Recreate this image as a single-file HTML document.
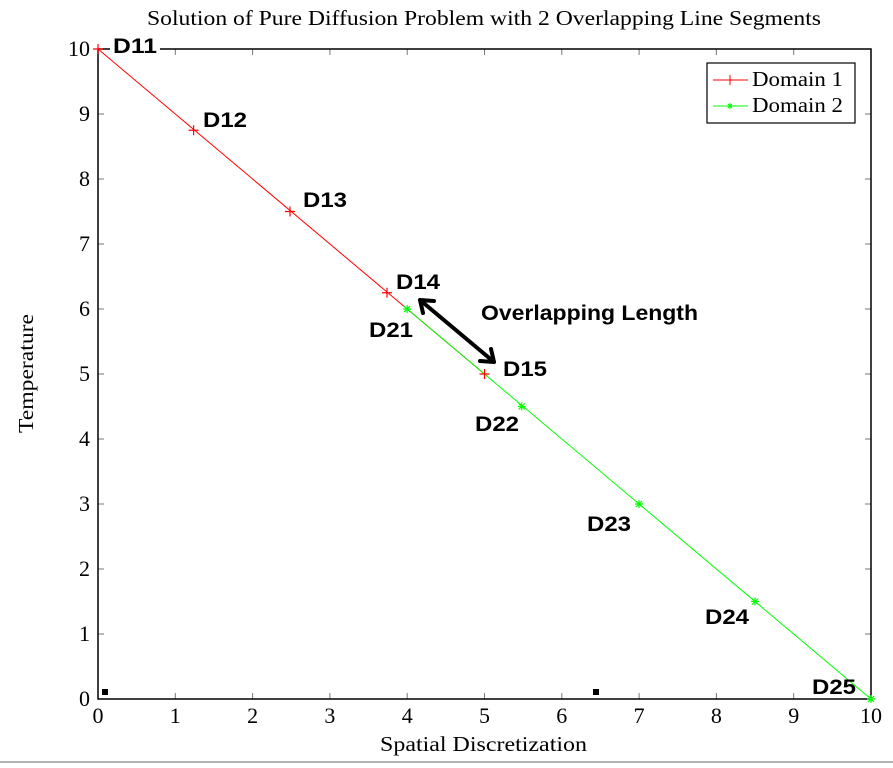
<!DOCTYPE html>
<html><head><style>body{margin:0;background:#fff}</style></head><body>
<svg width="893" height="763" xmlns="http://www.w3.org/2000/svg" font-family="Liberation Serif, serif">
<rect width="893" height="763" fill="#fff"/>
<line x1="0" y1="762" x2="893" y2="762" stroke="#999" stroke-width="1.5"/>
<text x="147" y="25" font-size="21" textLength="674" lengthAdjust="spacingAndGlyphs">Solution of Pure Diffusion Problem with 2 Overlapping Line Segments</text>
<g stroke="#777" stroke-width="1">
<path d="M175.3 699v-6M252.6 699v-6M329.9 699v-6M407.2 699v-6M484.5 699v-6M561.8 699v-6M639.1 699v-6M716.4 699v-6M793.7 699v-6"/>
<path d="M175.3 49v6M252.6 49v6M329.9 49v6M407.2 49v6M484.5 49v6M561.8 49v6M639.1 49v6M716.4 49v6M793.7 49v6"/>
<path d="M98 634h6M98 569h6M98 504h6M98 439h6M98 374h6M98 309h6M98 244h6M98 179h6M98 114h6"/>
<path d="M871 634h-6M871 569h-6M871 504h-6M871 439h-6M871 374h-6M871 309h-6M871 244h-6M871 179h-6M871 114h-6"/>
</g>
<rect x="98" y="49" width="773" height="650" fill="none" stroke="#000" stroke-width="1.5"/>
<g font-size="22" text-anchor="middle">
<text x="98" y="723">0</text><text x="175.3" y="723">1</text><text x="252.6" y="723">2</text><text x="329.9" y="723">3</text><text x="407.2" y="723">4</text><text x="484.5" y="723">5</text><text x="561.8" y="723">6</text><text x="639.1" y="723">7</text><text x="716.4" y="723">8</text><text x="793.7" y="723">9</text><text x="871" y="723">10</text>
</g>
<g font-size="22" text-anchor="end">
<text x="90" y="706">0</text><text x="90" y="641">1</text><text x="90" y="576">2</text><text x="90" y="511">3</text><text x="90" y="446">4</text><text x="90" y="381">5</text><text x="90" y="316">6</text><text x="90" y="251">7</text><text x="90" y="186">8</text><text x="90" y="121">9</text><text x="90" y="56">10</text>
</g>
<text x="380" y="751" font-size="21" textLength="207" lengthAdjust="spacingAndGlyphs">Spatial Discretization</text>
<text transform="translate(33 433) rotate(-90)" font-size="21" textLength="119" lengthAdjust="spacingAndGlyphs">Temperature</text>
<polyline points="98,49 484.5,374" fill="none" stroke="#f00" stroke-width="1"/>
<polyline points="407.2,309 871,699" fill="none" stroke="#0f0" stroke-width="1"/>
<g stroke="#f00" stroke-width="1.2">
<path d="M93 49h10M98 44v10M188.6 130.25h10M193.6 125.25v10M285 211.5h10M290 206.5v10M382 292.75h10M387 287.75v10M479.5 374h10M484.5 369v10"/>
</g>
<g stroke="#0f0" stroke-width="1.2">
<path d="M403.2 309h8M407.2 305v8M404 306l6 6M404 312l6-6"/>
<path d="M517.7 406.5h8M521.7 402.5v8M518.7 403.5l6 6M518.7 409.5l6-6"/>
<path d="M635 504h8M639 500v8M636 501l6 6M636 507l6-6"/>
<path d="M751 601.5h8M755 597.5v8M752 598.5l6 6M752 604.5l6-6"/>
<path d="M867 699h8M871 695v8M868 696l6 6M868 702l6-6"/>
</g>
<rect x="102" y="689" width="6" height="6"/><rect x="593" y="689" width="6" height="6"/>
<rect x="707" y="63" width="148" height="60" fill="#fff" stroke="#000" stroke-width="1.2"/>
<line x1="713" y1="80" x2="748" y2="80" stroke="#f00"/><path d="M730 75v10" stroke="#f00"/>
<line x1="713" y1="106" x2="748" y2="106" stroke="#0f0"/><path d="M727 106h6M730 103v6M728 104l4 4M728 108l4-4" stroke="#0f0"/>
<text x="752" y="86" font-size="21" textLength="91" lengthAdjust="spacingAndGlyphs">Domain 1</text>
<text x="752" y="112" font-size="21" textLength="91" lengthAdjust="spacingAndGlyphs">Domain 2</text>
<g font-family="Liberation Sans, sans-serif" font-weight="bold" font-size="21">
<rect x="110" y="33" width="50" height="24" fill="#fff"/>
<text x="113" y="53" textLength="44" lengthAdjust="spacingAndGlyphs">D11</text>
<text x="203" y="127" textLength="44" lengthAdjust="spacingAndGlyphs">D12</text>
<text x="303" y="207" textLength="44" lengthAdjust="spacingAndGlyphs">D13</text>
<text x="396" y="289" textLength="44" lengthAdjust="spacingAndGlyphs">D14</text>
<text x="503" y="376" textLength="44" lengthAdjust="spacingAndGlyphs">D15</text>
<text x="369" y="337" textLength="44" lengthAdjust="spacingAndGlyphs">D21</text>
<text x="475" y="431" textLength="44" lengthAdjust="spacingAndGlyphs">D22</text>
<text x="587" y="531" textLength="44" lengthAdjust="spacingAndGlyphs">D23</text>
<text x="705" y="624" textLength="44" lengthAdjust="spacingAndGlyphs">D24</text>
<text x="812" y="694" textLength="44" lengthAdjust="spacingAndGlyphs">D25</text>
<text x="481" y="320" textLength="217" lengthAdjust="spacingAndGlyphs">Overlapping Length</text>
</g>
<g stroke="#000" stroke-width="4" fill="none" stroke-linecap="round">
<line x1="420" y1="300" x2="494" y2="362"/>
<path d="M420 300l14 1M420 300l3 13"/>
<path d="M494 362l-14-1M494 362l-3-13"/>
</g>
</svg>
</body></html>
